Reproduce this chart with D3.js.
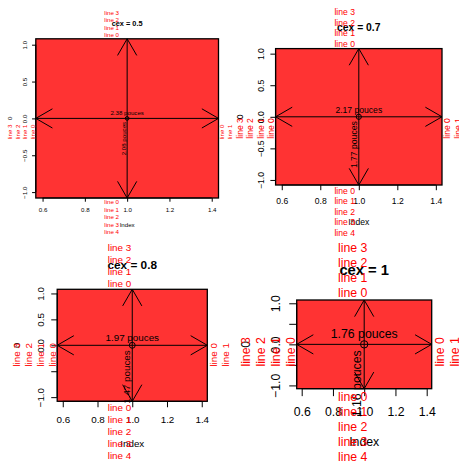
<!DOCTYPE html>
<html><head><meta charset="utf-8">
<script src="https://cdn.jsdelivr.net/npm/d3@7"></script>
<style>body{margin:0;background:#fff}svg{display:block}text{font-family:"Liberation Sans",Arial,Helvetica,sans-serif}</style>
</head><body><svg id="c" width="459" height="465"></svg>
<script>
// ---- data ----
const cexValues = [0.5, 0.7, 0.8, 1];
const titles = ["cex = 0.5", "cex = 0.7", "cex = 0.8", "cex = 1"];
const widthLabels = ["2.38 pouces", "2.17 pouces", "1.97 pouces", "1.76 pouces"];
const heightLabels = ["2.08 pouces", "1.77 pouces", "1.47 pouces", "1.16 pouces"];
const xTicks = [0.6, 0.8, 1.0, 1.2, 1.4];
const yTicks = [-1, -0.5, 0, 0.5, 1];
const xDomain = [0.568, 1.432];
const yDomain = [-1.08, 1.08];
const pointX = [1];
const pointY = [0];
const sideLines = {bottom: 5, left: 4, top: 4, right: 2};
const xLabel = "Index";
const yLabel = "0";

// ---- layout (plot regions in px) ----
const boxes = [
  {x0: 35.8, x1: 218.5, y0: 38.8, y1: 198},
  {x0: 275.6, x1: 442, y0: 48.6, y1: 185},
  {x0: 57.2, x1: 207.3, y0: 289.3, y1: 401.3},
  {x0: 296.7, x1: 431.7, y0: 300, y1: 388.7}
];
const BASE_FS = 12.3, BASE_L = 14.9, HEAD = 19.2, MTEXT_AT = 0.415;
const fmt = v => d3.format(".1f")(v).replace("-", "\u2212");

const svg = d3.select("#c");

function dropOverlaps(sel, fs) {
  const gap = 0.833 * fs;
  let last = null;
  sel.each(function(d) {
    const t = d3.select(this).select("text");
    const w = t.node().getComputedTextLength();
    const pos = +this.getAttribute("data-pos");
    if (last && Math.abs(pos - last.pos) < (w + last.w) / 2 + gap) {
      t.remove();
    } else {
      last = {pos, w};
    }
  });
}

cexValues.forEach((cex, i) => {
  const b = boxes[i];
  const fs = BASE_FS * cex, L = BASE_L * cex;
  const x = d3.scaleLinear().domain(xDomain).range([b.x0, b.x1]);
  const y = d3.scaleLinear().domain(yDomain).range([b.y1, b.y0]);
  const W = b.x1 - b.x0, H = b.y1 - b.y0;
  const g = svg.append("g");

  // red region
  g.append("rect").attr("x", x(xDomain[0])).attr("y", y(yDomain[1]))
    .attr("width", x(xDomain[1]) - x(xDomain[0])).attr("height", y(yDomain[0]) - y(yDomain[1]))
    .attr("fill", "#ff3333").attr("stroke", "#000").attr("stroke-width", 1.3);

  // point
  g.selectAll("circle.pt").data(pointX).join("circle").attr("class", "pt")
    .attr("cx", d => x(d)).attr("cy", (d, k) => y(pointY[k])).attr("r", 0.3 * fs)
    .attr("fill", "none").attr("stroke", "#000").attr("stroke-width", 1);

  // bottom axis
  const tick = 0.5 * L;
  const xa = g.append("g").attr("transform", `translate(0,${b.y1})`)
    .call(d3.axisBottom(x).tickValues(xTicks).tickFormat(fmt).tickSize(tick).tickSizeOuter(0)
      .tickPadding(1.85 * L - 0.72 * fs - tick));
  xa.select(".domain").attr("d", `M${x(xTicks[0])},0H${x(xTicks[xTicks.length - 1])}`);
  xa.selectAll(".tick").attr("data-pos", d => x(d));
  xa.selectAll("text").attr("font-size", fs).attr("fill", "#000").attr("font-family", null);
  xa.selectAll("line,path").attr("stroke", "#000");
  xa.attr("font-family", null).attr("font-size", null);
  dropOverlaps(xa.selectAll(".tick"), fs);

  // left axis (labels parallel to axis)
  const ya = g.append("g").attr("transform", `translate(${b.x0},0)`)
    .call(d3.axisLeft(y).tickValues(yTicks).tickFormat(fmt).tickSize(tick).tickSizeOuter(0));
  ya.select(".domain").attr("d", `M0,${y(yTicks[0])}V${y(yTicks[yTicks.length - 1])}`);
  ya.selectAll(".tick").attr("data-pos", d => y(d));
  ya.selectAll("text").attr("x", null).attr("dy", null).attr("text-anchor", "middle")
    .attr("transform", `translate(${-1.13 * L},0) rotate(-90)`)
    .attr("font-size", fs).attr("fill", "#000");
  ya.selectAll("line,path").attr("stroke", "#000");
  ya.attr("font-family", null).attr("font-size", null);
  dropOverlaps(ya.selectAll(".tick"), fs);

  // axis titles
  g.append("text").attr("x", x(1)).attr("y", b.y1 + 3.85 * L).attr("text-anchor", "middle")
    .attr("font-size", fs).text(xLabel);
  g.append("text").attr("transform", `translate(${b.x0 - 3.13 * L},${(b.y0 + b.y1) / 2}) rotate(-90)`)
    .attr("text-anchor", "middle").attr("font-size", fs).text(yLabel);

  // title
  g.append("text").attr("x", (b.x0 + b.x1) / 2).attr("y", b.y0 - 2.05 * L + 0.36 * 1.2 * fs)
    .attr("text-anchor", "middle").attr("font-size", 1.2 * fs).attr("font-weight", "bold").text(titles[i]);

  // arrows
  const cx = x(pointX[0]), cy = y(pointY[0]);
  const ends = [[x(xDomain[0]), cy], [x(xDomain[1]), cy], [cx, y(yDomain[1])], [cx, y(yDomain[0])]];
  ends.forEach(([ex, ey]) => {
    const ang = Math.atan2(ey - cy, ex - cx);
    const a1 = ang + Math.PI - Math.PI / 6, a2 = ang + Math.PI + Math.PI / 6;
    const p = d3.path();
    p.moveTo(cx, cy); p.lineTo(ex, ey);
    p.moveTo(ex + HEAD * Math.cos(a1), ey + HEAD * Math.sin(a1)); p.lineTo(ex, ey);
    p.lineTo(ex + HEAD * Math.cos(a2), ey + HEAD * Math.sin(a2));
    g.append("path").attr("d", p.toString()).attr("fill", "none").attr("stroke", "#000").attr("stroke-width", 1);
  });

  // size labels
  g.append("text").attr("x", cx).attr("y", cy - 0.48 * fs).attr("text-anchor", "middle")
    .attr("font-size", fs).text(widthLabels[i]);
  g.append("text").attr("transform", `translate(${cx - 0.24 * fs},${cy + 0.4 * fs + 1}) rotate(-90)`)
    .attr("text-anchor", "end").attr("font-size", fs).text(heightLabels[i]);

  // margin texts
  const mx = b.x0 + MTEXT_AT * W, my = b.y1 - MTEXT_AT * H;
  d3.range(sideLines.bottom).forEach(n => g.append("text").attr("x", mx).attr("y", b.y1 + (n + 0.85) * L)
    .attr("text-anchor", "middle").attr("font-size", fs).attr("fill", "#ff0000").text("line " + n));
  d3.range(sideLines.top).forEach(n => g.append("text").attr("x", mx).attr("y", b.y0 - (n + 0.2) * L)
    .attr("text-anchor", "middle").attr("font-size", fs).attr("fill", "#ff0000").text("line " + n));
  d3.range(sideLines.left).forEach(n => g.append("text")
    .attr("transform", `translate(${b.x0 - (n + 0.13) * L},${my}) rotate(-90)`)
    .attr("text-anchor", "middle").attr("font-size", fs).attr("fill", "#ff0000").text("line " + n));
  d3.range(sideLines.right).forEach(n => g.append("text")
    .attr("transform", `translate(${b.x1 + (n + 0.8) * L},${my}) rotate(-90)`)
    .attr("text-anchor", "middle").attr("font-size", fs).attr("fill", "#ff0000").text("line " + n));
});
</script></body></html>
